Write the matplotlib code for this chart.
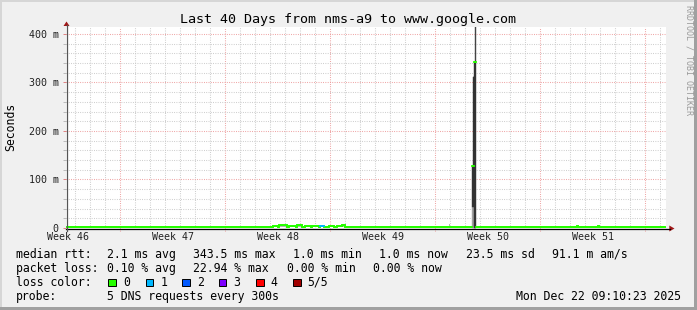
import numpy as np
import matplotlib
matplotlib.use("Agg")
import matplotlib.pyplot as plt
from matplotlib.patches import Rectangle, Polygon
from matplotlib.lines import Line2D
from matplotlib.collections import LineCollection
from matplotlib.transforms import blended_transform_factory

# ---------------- data ----------------
title = "Last 40 Days from nms-a9 to www.google.com"
period_days = 40
samples_per_day = 15            # consolidated columns per day (5760 s step)
first_midnight = 0.618          # days from start (Wed Nov 12 09:10:23) to next midnight
first_sunday = 3.618            # days from start to first Sunday 00:00
week_label_days = [0.118, 7.118, 14.118, 21.118, 28.118, 35.118]
week_labels = ["Week 46", "Week 47", "Week 48", "Week 49", "Week 50", "Week 51"]
y_major = [0, 100, 200, 300, 400]
y_major_labels = ["0", "100 m", "200 m", "300 m", "400 m"]
y_minor_step = 20
y_max = 414.4

baseline_median_ms = 2.0

# small bumps (start day, end day, median ms, smoke max ms, loss count)
bump_start = [13.78, 14.15, 14.82, 15.38, 15.93, 16.38, 16.93, 17.49, 18.05, 18.38, 25.47, 34.05, 35.42]
bump_end   = [14.09, 14.71, 15.27, 15.71, 16.27, 16.82, 17.16, 17.82, 18.38, 18.60, 25.60, 34.12, 35.49]
bump_med   = [4, 6, 4, 6, 4, 5, 5, 4, 4, 6, 2, 4, 4]
bump_max   = [5, 7, 5, 7, 5, 6, 6, 5, 5, 9, 9, 5, 5]
bump_loss  = [0, 0, 0, 0, 0, 0, 1, 0, 0, 0, 0, 0, 0]

# big spike around week 50 (one consolidated column each)
spike_day  = [27.067, 27.133, 27.200, 27.267]
spike_min  = [1, 1, 1, 1]
spike_low  = [43, 43, 1, 1]
spike_high = [128, 312, 342, 342]
spike_max  = [128, 312, 342, 430]
spike_med  = [128, 128, 342, 342]

loss_labels = ["0", "1", "2", "3", "4", "5/5"]
loss_colors = ["#26ff00", "#00b8ff", "#0059ff", "#7e00ff", "#ff0000", "#a10000"]

legend_lines = [
    [(16, "median rtt:"), (107.3, "2.1 ms avg"), (193, "343.5 ms max"), (293, "1.0 ms min"),
     (379, "1.0 ms now"), (466, "23.5 ms sd"), (552, "91.1 m am/s")],
    [(16, "packet loss:"), (107.3, "0.10 % avg"), (193, "22.94 % max"), (287, "0.00 % min"),
     (373, "0.00 % now")],
]
probe_text = "5 DNS requests every 300s"
date_text = "Mon Dec 22 09:10:23 2025"

# ---------------- figure ----------------
W, H = 697, 310
fig = plt.figure(figsize=(W / 100, H / 100), dpi=100)
fig.patch.set_facecolor("#f0f0f0")

def fx(x):
    return x / W

def fy(y):
    return 1 - y / H

L, R, T, B = 66, 666, 27, 228
ax = fig.add_axes([fx(L), fy(B), (R - L) / W, (B - T) / H])
ax.set_facecolor("white")
ax.set_xlim(0, period_days)
ax.set_ylim(0, y_max)
for s in ax.spines.values():
    s.set_visible(False)

mono = "DejaVu Sans Mono"
minor_col = "#c6c6c6"
major_col = "#ec9696"
dash = (0, (0.8, 1.4))

# grid
n = period_days * samples_per_day
edges = np.arange(n + 1) / samples_per_day
d = first_midnight
while d < period_days:
    is_major = abs(((d - first_sunday) / 7) - round((d - first_sunday) / 7)) < 1e-6
    if is_major:
        ax.axvline(d, ymin=-0.013, ymax=1, color=major_col, lw=0.75, ls=dash, zorder=1, clip_on=False)
    else:
        ax.axvline(d, color=minor_col, lw=0.75, ls=dash, zorder=1)
    d += 1
for v in np.arange(0, y_max, y_minor_step):
    if v == 0:
        continue
    if v % 100 == 0:
        ax.axhline(v, color=major_col, lw=0.75, ls=dash, zorder=1)
    else:
        ax.axhline(v, color=minor_col, lw=0.75, ls=dash, zorder=1)

# build series
med = np.full(n, baseline_median_ms)
loss = np.zeros(n, dtype=int)
smoke_lo = np.full(n, np.nan)
smoke_hi = np.full(n, np.nan)
cols = edges[:-1]
for s, e, m, mx, ls_ in zip(bump_start, bump_end, bump_med, bump_max, bump_loss):
    idx = (cols >= s - 1e-9) & (cols < e)
    med[idx] = m
    loss[idx] = ls_
    smoke_lo[idx] = baseline_median_ms
    smoke_hi[idx] = mx

# bump smoke
for i in np.where(~np.isnan(smoke_hi))[0]:
    ax.fill_between([edges[i], edges[i + 1]], smoke_lo[i], smoke_hi[i], color="#b4b4b4", lw=0, zorder=2)

# spike smoke
for dday, p1, p2, p4, p5, m in zip(spike_day, spike_min, spike_low, spike_high, spike_max, spike_med):
    i = int(round(dday * samples_per_day))
    x0, x1 = edges[i], edges[i + 1]
    ax.fill_between([x0, x1], p1, p2, color="#a0a0a0", lw=0.3, ec="#a0a0a0", zorder=2)
    ax.fill_between([x0, x1], p2, p4, color="#333333", lw=0.3, ec="#333333", zorder=2)
    ax.fill_between([x0, x1], p4, p5, color="#444444", lw=0.3, ec="#444444", zorder=2)
    med[i] = m

# median line: horizontal pieces per column, vertical joins only for small steps
segs = {}
for i in range(n):
    c = loss_colors[loss[i]]
    segs.setdefault(c, []).append([(edges[i], med[i]), (edges[i + 1], med[i])])
    if i > 0 and abs(med[i] - med[i - 1]) < 15 and med[i] != med[i - 1]:
        segs.setdefault(loss_colors[0], []).append([(edges[i], med[i - 1]), (edges[i], med[i])])
for c, sg in segs.items():
    ax.add_collection(LineCollection(sg, colors=c, linewidths=1.3, zorder=4 if c == loss_colors[0] else 5,
                                     capstyle="projecting"))

# ticks
ax.set_yticks(y_major)
ax.set_yticklabels(y_major_labels, fontfamily=mono, fontsize=7.2, color="#222222")
ax.set_yticks(np.arange(0, y_max, y_minor_step), minor=True)
ax.tick_params(axis="y", which="major", length=2, width=0.7, color="#e08080", pad=3.2)
ax.tick_params(axis="y", which="minor", length=2, width=0.7, color="#bbbbbb")
ax.set_xticks([])
tr = blended_transform_factory(ax.transData, fig.transFigure)
for dday, lab in zip(week_label_days, week_labels):
    ax.text(dday, fy(237.5), lab, transform=tr, ha="center", va="center",
            fontfamily=mono, fontsize=7.2, color="#222222")

# axes lines + arrows
fig.add_artist(Line2D([fx(66), fx(670)], [fy(228.5), fy(228.5)], color="black", lw=0.9))
fig.add_artist(Line2D([fx(66.5), fx(66.5)], [fy(231), fy(25)], color="#555555", lw=0.9))
fig.add_artist(Polygon([[fx(669.3), fy(225.5)], [fx(674.5), fy(228.5)], [fx(669.3), fy(231.5)]],
                       closed=True, color="#a01818", lw=0))
fig.add_artist(Polygon([[fx(63.5), fy(26)], [fx(66.5), fy(21.5)], [fx(69.5), fy(26)]],
                       closed=True, color="#a01818", lw=0))

# borders
fig.add_artist(Rectangle((0, fy(2)), 1, 2 / H, transform=fig.transFigure, color="#d6d6d6", lw=0))
fig.add_artist(Rectangle((0, 0), 2 / W, 1, transform=fig.transFigure, color="#d6d6d6", lw=0))
fig.add_artist(Rectangle((0, 0), 1, 3 / H, transform=fig.transFigure, color="#a0a0a0", lw=0))
fig.add_artist(Rectangle((fx(694), 0), 3 / W, 1, transform=fig.transFigure, color="#a0a0a0", lw=0))

# texts
fig.text(fx(348), fy(19), title, ha="center", va="center", fontfamily=mono, fontsize=9.6, color="black")
fig.text(fx(11), fy(127), "Seconds", ha="center", va="center", rotation=90,
         fontfamily=mono, fontsize=8.3, color="black")
fig.text(fx(688.5), fy(5), "RRDTOOL / TOBI OETIKER", ha="center", va="top", rotation=270,
         fontfamily=mono, fontsize=6.0, color="#9a9a9a")

leg_y = [254.3, 268.3, 282.3, 296.3]
for line, yy in zip(legend_lines, leg_y[:2]):
    for x, s in line:
        fig.text(fx(x), fy(yy), s, ha="left", va="center", fontfamily=mono, fontsize=8.3, color="black")

fig.text(fx(16), fy(leg_y[2]), "loss color:", ha="left", va="center", fontfamily=mono, fontsize=8.3)
box_x = [108.3, 145.7, 182.3, 219.0, 256.3, 293.3]
lab_x = [123.3, 160.7, 197.0, 233.7, 270.0, 307.3]
for bx, lx, lab, c in zip(box_x, lab_x, loss_labels, loss_colors):
    fig.add_artist(Rectangle((fx(bx), fy(leg_y[2] + 3.7)), 7.4 / W, 7.4 / H, transform=fig.transFigure,
                             facecolor=c, edgecolor="black", lw=0.7))
    fig.text(fx(lx), fy(leg_y[2]), lab, ha="left", va="center", fontfamily=mono, fontsize=8.3)

fig.text(fx(16), fy(leg_y[3]), "probe:", ha="left", va="center", fontfamily=mono, fontsize=8.3)
fig.text(fx(107.3), fy(leg_y[3]), probe_text, ha="left", va="center", fontfamily=mono, fontsize=8.3)
fig.text(fx(680.5), fy(leg_y[3]), date_text, ha="right", va="center", fontfamily=mono, fontsize=8.3)

fig.savefig("out.png", dpi=100, facecolor=fig.get_facecolor())
